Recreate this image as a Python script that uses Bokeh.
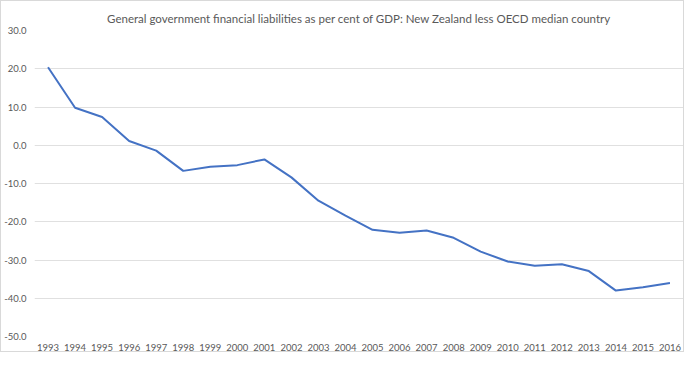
from bokeh.plotting import figure
from bokeh.models import FactorRange, Range1d, FixedTicker, NumeralTickFormatter
from bokeh.embed import file_html
from bokeh.resources import INLINE

years = [str(y) for y in range(1993, 2017)]
values = [20.4, 9.8, 7.4, 1.1, -1.4, -6.7, -5.6, -5.2, -3.7, -8.4, -14.5, -18.4,
          -22.1, -22.9, -22.3, -24.2, -27.8, -30.4, -31.5, -31.1, -32.9, -38.0, -37.1, -36.0]
y_ticks = [-50, -40, -30, -20, -10, 0, 10, 20, 30]
title = "General government financial liabilities as per cent of GDP: New Zealand less OECD median country"

p = figure(width=684, height=352, x_range=FactorRange(*years), y_range=Range1d(-50, 30),
           output_backend="svg", toolbar_location=None,
           min_border_left=20, min_border_right=2, min_border_top=29, min_border_bottom=0)
p.line(x=years, y=values, line_color="#4472C4", line_width=2)

p.title.text = title
p.title.align = "center"
p.title.vertical_align = "top"
p.title.text_font = "Lato"
p.title.text_font_size = "11.5px"
p.title.text_font_style = "normal"
p.title.text_color = "#595959"
p.title.text_line_height = 1.0
p.title.standoff = 8

p.outline_line_color = None
p.xgrid.grid_line_color = None
p.ygrid.grid_line_color = "#e0e0e0"
p.yaxis.ticker = FixedTicker(ticks=y_ticks)
p.yaxis.formatter = NumeralTickFormatter(format="0.0")
for ax in (p.xaxis[0], p.yaxis[0]):
    ax.axis_line_color = None
    ax.major_tick_line_color = None
    ax.minor_tick_line_color = None
    ax.major_label_text_font = "Lato"
    ax.major_label_text_font_size = "9.5px"
    ax.major_label_text_color = "#595959"
    ax.major_tick_out = 0
    ax.major_tick_in = 0
p.xaxis.major_label_standoff = 7
p.yaxis.major_label_standoff = 8
p.xaxis.group_text_font_size = "0px"
p.styles = {"border": "1px solid #d9d9d9", "box-sizing": "border-box"}

open("out.html", "w").write(file_html(p, INLINE))
